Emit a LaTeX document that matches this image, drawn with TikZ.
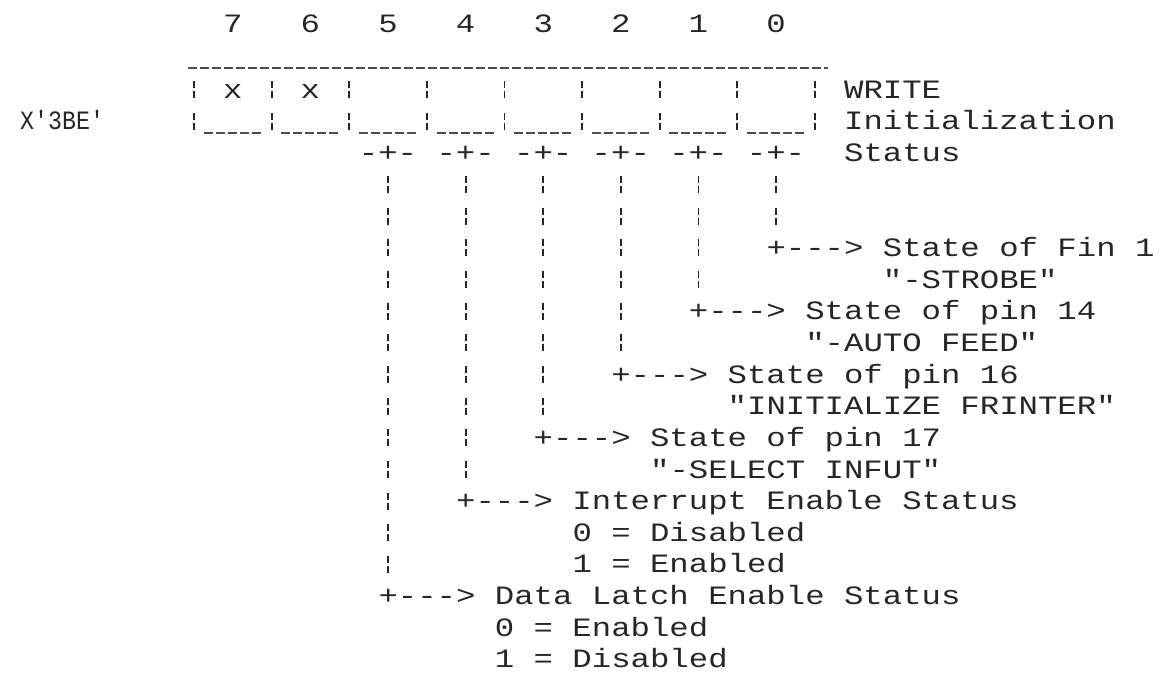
\documentclass[tikz,border=0pt]{standalone}
\usepackage{graphicx}
\usepackage{fontspec}
\setmonofont[FakeStretch=1.22]{Liberation Mono}
\begin{document}
\begin{tikzpicture}[x=1pt,y=-1pt,
  declare function={cx(\c)=19.4*\c; ry(\r)=153+(\r-5)*31.65;},
  mono/.style={font=\ttfamily\fontsize{26.5}{30}\selectfont, text=black!85, inner sep=0pt},
  txt/.style={mono, anchor=base west},
  ctxt/.style={mono, anchor=base},
  dotline/.style={draw=black!70, line width=1.4pt, dash pattern=on 9pt off 3pt},
  vbar/.style={draw=black!85, line width=1.8pt, dash pattern=on 7pt off 3pt on 7pt off 14.65pt}]
\useasboundingbox[fill=white] (0,0) rectangle (1165,680);
% bit numbers
\foreach \b in {0,...,7} { \node[ctxt] (b\b) at ({cx(40-4*\b)},32.5) {\b}; }
% register
\draw[dotline] (188,68) -- (828,68);
\foreach \k in {0,...,8} { \draw[vbar] ({cx(10+4*\k)},{ry(3)-8.5}) -- ({cx(10+4*\k)},{ry(4)+8.5}); }
\foreach \k in {0,...,7} { \draw[dotline] ({cx(12+4*\k)-29},133) -- ({cx(12+4*\k)+29},133); }
\node[ctxt] (x7) at ({cx(12)},{ry(3)+8.5}) {x};
\node[ctxt] (x6) at ({cx(16)},{ry(3)+8.5}) {x};
\node[txt] (addr) at (20,{ry(4)+8.5}) {\scalebox{0.72}[1]{X'3BE'}};
\node[txt] (w1) at ({cx(44)-9.7},{ry(3)+8.5}) {WRITE};
\node[txt] (w2) at ({cx(44)-9.7},{ry(4)+8.5}) {Initialization};
\node[txt] (w3) at ({cx(44)-9.7},{ry(5)+8.5}) {Status};
% taps
\foreach \b in {0,...,5} { \node[ctxt] (t\b) at ({cx(40-4*\b)},{ry(5)+8.5}) {-+-}; }
% bit 0
\coordinate (p0) at ({cx(40)},{ry(8)});
\node[txt] (l0) at ({cx(40)-9.7},{ry(8)+8.5}) {+---> State of Fin 1};
\node[txt] (s0) at ({cx(46)-9.7},{ry(9)+8.5}) {"-STROBE"};
% bit 1
\coordinate (p1) at ({cx(36)},{ry(10)});
\node[txt] (l1) at ({cx(36)-9.7},{ry(10)+8.5}) {+---> State of pin 14};
\node[txt] (s1) at ({cx(42)-9.7},{ry(11)+8.5}) {"-AUTO FEED"};
% bit 2
\coordinate (p2) at ({cx(32)},{ry(12)});
\node[txt] (l2) at ({cx(32)-9.7},{ry(12)+8.5}) {+---> State of pin 16};
\node[txt] (s2) at ({cx(38)-9.7},{ry(13)+8.5}) {"INITIALIZE FRINTER"};
% bit 3
\coordinate (p3) at ({cx(28)},{ry(14)});
\node[txt] (l3) at ({cx(28)-9.7},{ry(14)+8.5}) {+---> State of pin 17};
\node[txt] (s3) at ({cx(34)-9.7},{ry(15)+8.5}) {"-SELECT INFUT"};
% bit 4
\coordinate (p4) at ({cx(24)},{ry(16)});
\node[txt] (l4) at ({cx(24)-9.7},{ry(16)+8.5}) {+---> Interrupt Enable Status};
\node[txt] (s4a) at ({cx(30)-9.7},{ry(17)+8.5}) {0 = Disabled};
\node[txt] (s4b) at ({cx(30)-9.7},{ry(18)+8.5}) {1 = Enabled};
% bit 5
\coordinate (p5) at ({cx(20)},{ry(19)});
\node[txt] (l5) at ({cx(20)-9.7},{ry(19)+8.5}) {+---> Data Latch Enable Status};
\node[txt] (s5a) at ({cx(26)-9.7},{ry(20)+8.5}) {0 = Enabled};
\node[txt] (s5b) at ({cx(26)-9.7},{ry(21)+8.5}) {1 = Disabled};
% connectors
\foreach \b in {0,...,5} { \draw[vbar] ([yshift=-14.3pt]t\b.south) -- ([yshift=23.15pt]p\b); }
\end{tikzpicture}
\end{document}
